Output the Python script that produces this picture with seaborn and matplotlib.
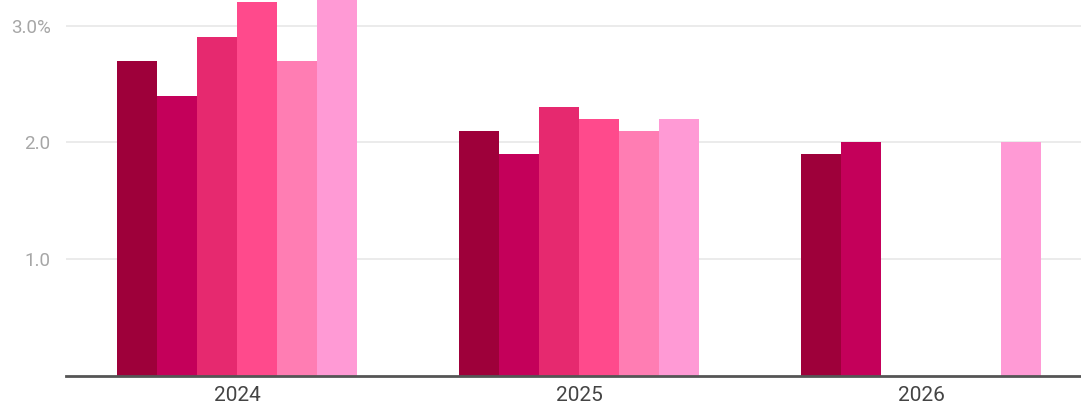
import numpy as np
import pandas as pd
import matplotlib
matplotlib.use("Agg")
import matplotlib.pyplot as plt
import seaborn as sns

years = ["2024", "2025", "2026"]
series = ["Series 1", "Series 2", "Series 3", "Series 4", "Series 5", "Series 6"]
s1 = [2.7, 2.1, 1.9]
s2 = [2.4, 1.9, 2.0]
s3 = [2.9, 2.3, np.nan]
s4 = [3.2, 2.2, np.nan]
s5 = [2.7, 2.1, np.nan]
s6 = [3.3, 2.2, 2.0]
colors = ["#9e003a", "#c4005a", "#e6296f", "#ff4a8c", "#ff7db3", "#ff9ad5"]

rows = []
for name, vals in zip(series, [s1, s2, s3, s4, s5, s6]):
    for y, v in zip(years, vals):
        rows.append({"year": y, "series": name, "value": v})
df = pd.DataFrame(rows)

sns.set_theme(style="white")
plt.rcParams["font.family"] = ["Roboto", "DejaVu Sans"]

fig = plt.figure(figsize=(10.81, 4.05), dpi=100)
ax = fig.add_axes([66 / 1081, 29 / 405, (1092 - 66) / 1081, 376 / 405])
sns.barplot(data=df, x="year", y="value", hue="series", palette=colors,
            width=0.7, saturation=1, ax=ax, legend=False, errorbar=None,
            linewidth=0, edgecolor="none")

ax.set_ylim(0, 3.22)
ax.set_xlim(-0.5, 2.5)
ax.set_yticks([1.0, 2.0, 3.0])
ax.set_yticklabels(["1.0", "2.0", "3.0%"])
ax.yaxis.grid(True, color="#e8e8e8", linewidth=1.2)
ax.set_axisbelow(True)
for s in ["top", "right", "left"]:
    ax.spines[s].set_visible(False)
ax.spines["bottom"].set_color("#555555")
ax.spines["bottom"].set_linewidth(2)
ax.tick_params(axis="y", length=0, pad=11, labelsize=13.5, labelcolor="#a6a6a6")
ax.tick_params(axis="x", length=0, pad=7, labelsize=15, labelcolor="#444444")
ax.set_xlabel("")
ax.set_ylabel("")

fig.savefig("out.png", dpi=100)
